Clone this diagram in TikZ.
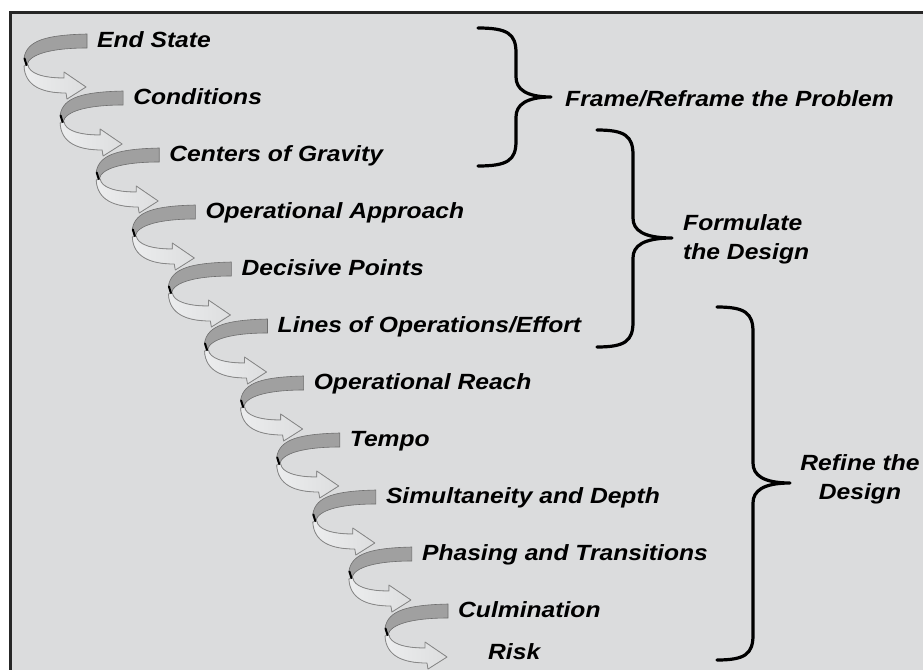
\documentclass[tikz,border=0pt]{standalone}
\usepackage{fontspec}
\setmainfont{Liberation Sans}
\newfontfamily\lblfont[FakeStretch=1.12]{Liberation Sans}
\definecolor{bg}{RGB}{219,220,221}
\definecolor{bandfill}{RGB}{160,160,160}
\definecolor{bandline}{RGB}{110,110,110}
\definecolor{arrlight}{RGB}{236,237,238}
\definecolor{arrfill}{RGB}{221,222,223}
\definecolor{arrline}{RGB}{135,135,135}
\tikzset{
  lbl/.style={font=\lblfont\bfseries\itshape\fontsize{22}{29}\selectfont, inner sep=0pt, anchor=base west},
  grp/.style={font=\lblfont\bfseries\itshape\fontsize{22}{29}\selectfont, inner sep=0pt},
  bracestyle/.style={line width=3.2pt, line cap=round, line join=round},
  bandshape/.style={fill=bandfill, draw=bandline, line width=0.6pt},
  arrowshape/.style={left color=arrlight, right color=arrfill, draw=arrline, line width=0.8pt, line join=round},
}
\newcommand\mybrc[6]{%
  \draw[bracestyle] (#1,#4) .. controls (#2-8,#4) and (#2,#4+6) .. (#2,#4+25)
     -- (#2,#5-20) .. controls (#2,#5-8) and (#2+10,#5) .. (#3,#5)
     .. controls (#2+10,#5) and (#2,#5+8) .. (#2,#5+20)
     -- (#2,#6-25) .. controls (#2,#6-6) and (#2-8,#6) .. (#1,#6);}
\begin{document}
\begin{tikzpicture}[x=1pt,y=-1pt]
\clip (0,0) rectangle (923,669);
\fill[white] (0,0) rectangle (923,669);
\fill[bg] (10,13) rectangle (940,690);
\draw[line width=3pt, black!85] (940,13) -- (10,13) -- (10,690);

\foreach \t [count=\i from 0] in {End State,Conditions,Centers of Gravity,Operational Approach,Decisive Points,Lines of Operations/Effort,Operational Reach,Tempo,Simultaneity and Depth,Phasing and Transitions,Culmination} {
  \pgfmathsetmacro\L{97+36.1*\i}
  \pgfmathsetmacro\Y{40+57*\i}
  \begin{scope}[shift={(\L,\Y)}]
    \filldraw[arrowshape] (-73,26) .. controls (-72,46) and (-55,53) .. (-31,53)
      -- (-30,59) -- (-11,47) -- (-33,32) -- (-33,38)
      .. controls (-55,38) and (-68,33) .. (-69,25) -- cycle;
    \filldraw[bandshape] (-73,18) .. controls (-70,0) and (-50,-5) .. (-10,-6)
      -- (-10,8) .. controls (-45,8) and (-68,14) .. (-70,25) -- cycle;
    \draw[line width=2pt, line cap=round] (-72.5,18.5) -- (-70.5,25);
  \end{scope}
  \node[lbl] (l\i) at (\L,\Y+7.5) {\t};
}
\node[lbl] (risk) at (488,659.5) {Risk};

\mybrc{478}{516}{551}{28}{97}{166}
\mybrc{597}{633}{672}{130}{238}{347}
\mybrc{717}{753}{790}{307}{483}{660}

\node[grp, anchor=base west] (frame) at (565,106) {Frame/Reframe the Problem};
\node[grp, align=left, anchor=west] (formulate) at (683,239) {Formulate\\the Design};
\node[grp, align=center] (refine) at (860,479) {Refine the\\Design};
\end{tikzpicture}
\end{document}
